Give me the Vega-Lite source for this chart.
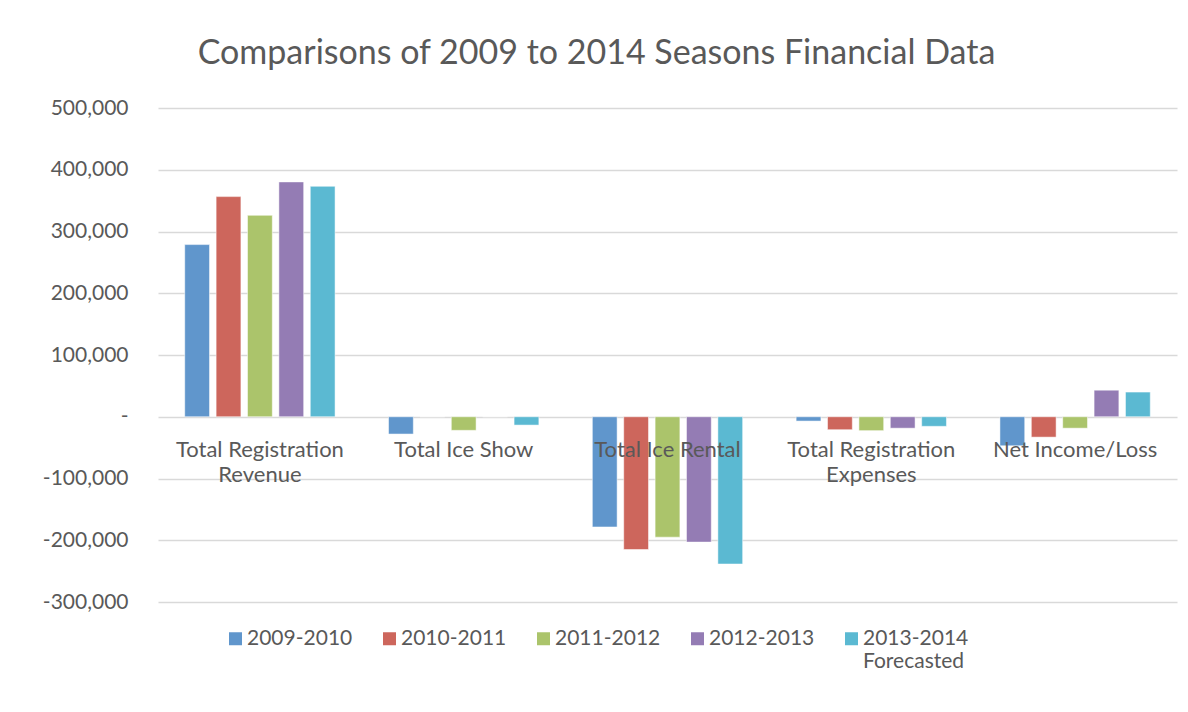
{
  "$schema": "https://vega.github.io/schema/vega-lite/v6.json",
  "autosize": "none",
  "width": 1019,
  "height": 494,
  "padding": {"left": 158, "top": 108, "right": 11, "bottom": 110},
  "background": "white",
  "title": {
    "text": "Comparisons of 2009 to 2014 Seasons Financial Data",
    "font": "Lato",
    "fontSize": 34,
    "fontWeight": "normal",
    "color": "#595959",
    "anchor": "middle",
    "frame": "group",
    "dx": -71,
    "offset": 26
  },
  "config": {
    "view": {"stroke": null},
    "font": "Lato"
  },
  "datasets": {
    "bars": [
      {"category": "Total Registration Revenue", "season": "2009-2010", "value": 278800},
      {"category": "Total Registration Revenue", "season": "2010-2011", "value": 356500},
      {"category": "Total Registration Revenue", "season": "2011-2012", "value": 326200},
      {"category": "Total Registration Revenue", "season": "2012-2013", "value": 380300},
      {"category": "Total Registration Revenue", "season": "2013-2014\nForecasted", "value": 373200},
      {"category": "Total Ice Show", "season": "2009-2010", "value": -28000},
      {"category": "Total Ice Show", "season": "2010-2011", "value": 0},
      {"category": "Total Ice Show", "season": "2011-2012", "value": -22000},
      {"category": "Total Ice Show", "season": "2012-2013", "value": 0},
      {"category": "Total Ice Show", "season": "2013-2014\nForecasted", "value": -13500},
      {"category": "Total Ice Rental", "season": "2009-2010", "value": -178500},
      {"category": "Total Ice Rental", "season": "2010-2011", "value": -215000},
      {"category": "Total Ice Rental", "season": "2011-2012", "value": -195000},
      {"category": "Total Ice Rental", "season": "2012-2013", "value": -203000},
      {"category": "Total Ice Rental", "season": "2013-2014\nForecasted", "value": -238500},
      {"category": "Total Registration Expenses", "season": "2009-2010", "value": -7000},
      {"category": "Total Registration Expenses", "season": "2010-2011", "value": -21000},
      {"category": "Total Registration Expenses", "season": "2011-2012", "value": -22500},
      {"category": "Total Registration Expenses", "season": "2012-2013", "value": -18500},
      {"category": "Total Registration Expenses", "season": "2013-2014\nForecasted", "value": -15500},
      {"category": "Net Income/Loss", "season": "2009-2010", "value": -47000},
      {"category": "Net Income/Loss", "season": "2010-2011", "value": -33000},
      {"category": "Net Income/Loss", "season": "2011-2012", "value": -18500},
      {"category": "Net Income/Loss", "season": "2012-2013", "value": 43000},
      {"category": "Net Income/Loss", "season": "2013-2014\nForecasted", "value": 40000}
    ],
    "labels": [
      {"category": "Total Registration Revenue", "label": "Total Registration\nRevenue"},
      {"category": "Total Ice Show", "label": "Total Ice Show"},
      {"category": "Total Ice Rental", "label": "Total Ice Rental"},
      {"category": "Total Registration Expenses", "label": "Total Registration\nExpenses"},
      {"category": "Net Income/Loss", "label": "Net Income/Loss"}
    ]
  },
  "layer": [
    {
      "data": {"name": "bars"},
      "mark": {"type": "bar", "stroke": "white", "strokeWidth": 1, "strokeOpacity": 0.5},
      "encoding": {
        "x": {
          "field": "category",
          "type": "nominal",
          "sort": null,
          "scale": {
            "domain": ["Total Registration Revenue", "Total Ice Show", "Total Ice Rental", "Total Registration Expenses", "Net Income/Loss"],
            "paddingInner": 0.23,
            "paddingOuter": 0.115
          },
          "axis": null
        },
        "xOffset": {
          "field": "season",
          "type": "nominal",
          "sort": null,
          "scale": {"paddingInner": 0.21, "paddingOuter": 0.105}
        },
        "y": {
          "field": "value",
          "type": "quantitative",
          "scale": {"domain": [-300000, 500000], "nice": false, "zero": true},
          "axis": {
            "title": null,
            "values": [-300000, -200000, -100000, 0, 100000, 200000, 300000, 400000, 500000],
            "labelExpr": "datum.value == 0 ? '-' : replace(format(datum.value, ','), '\u2212', '-')",
            "labelFont": "Lato",
            "labelFontSize": 21,
            "labelColor": "#595959",
            "labelPadding": 30,
            "ticks": false,
            "domain": false,
            "grid": true,
            "gridColor": "#D9D9D9",
            "gridWidth": 1.3
          }
        },
        "color": {
          "field": "season",
          "type": "nominal",
          "sort": null,
          "scale": {
            "domain": ["2009-2010", "2010-2011", "2011-2012", "2012-2013", "2013-2014\nForecasted"],
            "range": ["#6096CC", "#CD665C", "#ABC46B", "#947CB4", "#5BB9D2"]
          },
          "legend": {
            "title": null,
            "orient": "none",
            "direction": "horizontal",
            "legendX": 67,
            "legendY": 520,
            "symbolType": "square",
            "symbolSize": 169,
            "symbolStrokeWidth": 0,
            "labelFont": "Lato",
            "labelFontSize": 21,
            "labelColor": "#595959",
            "labelOffset": 1,
            "columnPadding": 26,
            "labelLimit": 300,
            "labelExpr": "indexof(datum.label, '\\n') >= 0 ? split(datum.label, '\\n') : [datum.label, ' ']"
          }
        }
      }
    },
    {
      "data": {"name": "labels"},
      "mark": {
        "type": "text",
        "font": "Lato",
        "fontSize": 22,
        "color": "#595959",
        "baseline": "alphabetic",
        "align": "center",
        "lineBreak": "\n",
        "lineHeight": 25,
        "dy": 40
      },
      "encoding": {
        "x": {"field": "category", "type": "nominal", "sort": null},
        "y": {"datum": 0},
        "text": {"field": "label"}
      }
    }
  ]
}
